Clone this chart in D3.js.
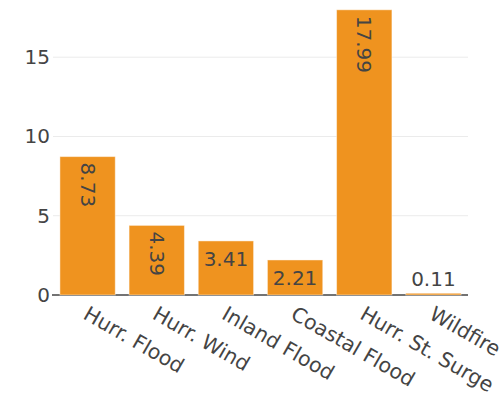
<!DOCTYPE html>
<html>
<head>
<meta charset="utf-8">
<script src="https://cdn.jsdelivr.net/npm/d3@7"></script>
<style>
  html, body { margin: 0; padding: 0; background: #fff; }
  svg { display: block; }
  text { font-family: "DejaVu Sans", Verdana, sans-serif; }
</style>
</head>
<body>
<svg id="chart" width="501" height="399"></svg>
<script>
const categories = ["Hurr. Flood", "Hurr. Wind", "Inland Flood", "Coastal Flood", "Hurr. St. Surge", "Wildfire"];
const values = [8.73, 4.39, 3.41, 2.21, 17.99, 0.11];
const labels = ["8.73", "4.39", "3.41", "2.21", "17.99", "0.11"];
const labelMode = ["rotated", "rotated", "inside", "inside", "rotated", "outside"];
const yTicks = [0, 5, 10, 15];

const svg = d3.select("#chart");
const plot = { left: 53, right: 468, bottom: 295 };
const fontSize = 20;
const xFontSize = 20.5;
const barColor = "#ef931f";
const textColor = "#444";

const x = d3.scaleBand().domain(categories).range([plot.left, plot.right])
  .paddingInner(0.2).paddingOuter(0.1);
const y = d3.scaleLinear().domain([0, 15]).range([plot.bottom, 57.2]);

// gridlines
svg.append("g").selectAll("line").data(yTicks.filter(d => d !== 0)).join("line")
  .attr("x1", plot.left).attr("x2", plot.right)
  .attr("y1", d => y(d)).attr("y2", d => y(d))
  .attr("stroke", "#ebebeb").attr("stroke-width", 1);

// y tick labels
svg.append("g").selectAll("text").data(yTicks).join("text")
  .attr("x", plot.left - 3).attr("y", d => y(d))
  .attr("text-anchor", "end").attr("dominant-baseline", "central")
  .attr("font-size", fontSize).attr("fill", textColor)
  .text(d => d);

// zero line
svg.append("line")
  .attr("x1", plot.left - 1).attr("x2", plot.right)
  .attr("y1", y(0)).attr("y2", y(0))
  .attr("stroke", "#444").attr("stroke-width", 1.5);

// bars
const data = categories.map((c, i) => ({ c, v: values[i], t: labels[i], m: labelMode[i] }));
svg.append("g").selectAll("rect").data(data).join("rect")
  .attr("x", d => x(d.c)).attr("width", x.bandwidth())
  .attr("y", d => y(d.v)).attr("height", d => y(0) - y(d.v))
  .attr("fill", barColor)
  .attr("stroke", "rgba(255,255,255,0.45)").attr("stroke-width", 1);

// bar labels
const lg = svg.append("g");
data.forEach(d => {
  const cx = x(d.c) + x.bandwidth() / 2;
  const top = y(d.v);
  if (d.m === "inside") {
    lg.append("text").attr("x", cx).attr("y", top + 25)
      .attr("text-anchor", "middle").attr("font-size", fontSize)
      .attr("fill", textColor).text(d.t);
  } else if (d.m === "rotated") {
    lg.append("text")
      .attr("transform", `translate(${cx},${top + 6}) rotate(90)`)
      .attr("text-anchor", "start").attr("dominant-baseline", "central")
      .attr("font-size", fontSize).attr("fill", textColor).text(d.t);
  } else {
    lg.append("text").attr("x", cx).attr("y", top - 7)
      .attr("text-anchor", "middle").attr("font-size", fontSize)
      .attr("fill", textColor).text(d.t);
  }
});

// x labels
svg.append("g").selectAll("text").data(categories).join("text")
  .attr("transform", d => `translate(${x(d) + x.bandwidth() / 2 - 5.5},318) rotate(30)`)
  .attr("text-anchor", "start")
  .attr("font-size", xFontSize).attr("fill", textColor)
  .text(d => d);
</script>
</body>
</html>
